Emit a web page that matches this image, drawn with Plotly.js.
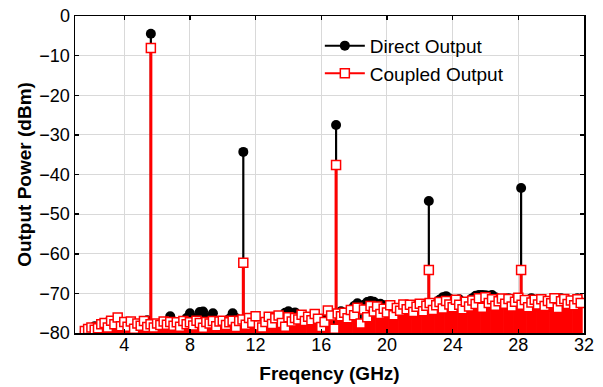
<!DOCTYPE html>
<html>
<head>
<meta charset="utf-8">
<script src="https://cdn.plot.ly/plotly-3.0.1.min.js"></script>
<style>html,body{margin:0;padding:0;background:#fff;}#chart{width:603px;height:387px;}</style>
</head>
<body>
<div id="chart"></div>
<script>
// Harmonic peaks (GHz, dBm)
const peakFreq = [5.62, 11.25, 16.9, 22.55, 28.17];
const directPeak = [-4.5, -34.3, -27.5, -46.7, -43.4];
const coupledPeak = [-8.1, -62.3, -37.6, -64.1, -64.1];

// Noise floor sweep (GHz)
const noiseFreq = [
 1.6,1.8,2.0,2.2,2.4,2.6,
 2.8,3.0,3.2,3.4,3.6,3.8,4.0,
 4.2,4.4,4.6,4.8,5.0,5.2,5.4,
 5.6,5.8,6.0,6.2,6.4,6.6,6.8,7.0,
 7.2,7.4,7.6,7.8,8.0,8.2,8.4,8.6,8.8,9.0,
 9.2,9.4,9.6,9.8,10.0,10.2,10.4,10.6,10.8,11.0,
 11.2,11.4,11.6,11.8,12.0,12.2,12.4,12.6,12.8,13.0,
 13.2,13.4,13.6,13.8,14.0,14.2,14.4,14.6,14.8,15.0,
 15.2,15.4,15.6,15.8,16.0,16.2,16.4,16.6,16.8,17.0,
 17.2,17.4,17.6,17.8,18.0,18.2,18.4,18.6,18.8,19.0,
 19.2,19.4,19.6,19.8,20.0,20.2,20.4,20.6,20.8,21.0,
 21.2,21.4,21.6,21.8,22.0,22.2,22.4,22.6,22.8,23.0,
 23.2,23.4,23.6,23.8,24.0,24.2,24.4,24.6,24.8,25.0,
 25.2,25.4,25.6,25.8,26.0,26.2,26.4,26.6,26.8,27.0,
 27.2,27.4,27.6,27.8,28.0,28.2,28.4,28.6,28.8,29.0,
 29.2,29.4,29.6,29.8,30.0,30.2,30.4,30.6,30.8,31.0,
 31.2,31.4,31.6,31.8
];
const directNoise = [
 -79.6,-79.3,-79.0,-78.3,-79.4,-78.9,
 -78.4,-77.3,-78.6,-78.9,-79.1,-78.7,-79.0,
 -78.3,-79.2,-78.6,-79.3,-78.5,-78.9,-76.8,
 -78.4,-79.2,-78.6,-79.0,-78.3,-77.2,-75.8,-78.5,
 -77.6,-78.8,-77.4,-76.2,-75.0,-77.4,-76.3,-74.7,-74.6,-76.8,
 -76.0,-75.0,-77.2,-78.1,-77.0,-78.3,-76.4,-75.0,-76.2,-77.9,
 -77.6,-78.4,-77.5,-78.5,-77.6,-78.2,-77.4,-78.4,-77.3,-77.9,
 -77.1,-76.4,-75.7,-74.9,-74.5,-75.1,-74.8,-76.0,-76.9,-76.5,
 -77.1,-76.7,-77.3,-76.8,-77.6,-76.4,-76.0,-77.1,-76.3,-75.6,
 -74.5,-74.9,-75.4,-74.1,-73.2,-72.5,-73.4,-72.9,-72.2,-71.9,
 -72.1,-72.8,-72.6,-73.0,-73.3,-73.6,-74.5,-75.0,-74.4,-74.9,
 -74.6,-75.1,-74.3,-74.9,-73.9,-74.5,-74.0,-74.8,-73.6,-72.4,
 -71.6,-71.0,-70.7,-71.3,-72.0,-71.8,-71.5,-72.5,-73.1,-72.0,
 -71.2,-70.6,-70.4,-70.4,-70.5,-70.6,-70.4,-71.0,-71.8,-71.6,
 -71.6,-71.2,-72.4,-73.3,-72.8,-73.5,-72.6,-71.9,-71.2,-72.5,
 -73.4,-72.7,-73.8,-72.9,-73.5,-72.4,-71.7,-71.2,-72.2,-73.6,
 -72.8,-71.9,-71.2,-72.3
];
const coupledNoise = [
 -79.5,-79.0,-78.6,-79.2,-78.8,-77.8,
 -77.5,-78.6,-76.9,-77.8,-76.1,-78.3,-77.2,
 -78.4,-77.1,-78.9,-77.6,-78.2,-77.0,-78.5,
 -77.8,-78.6,-77.6,-78.0,-77.1,-77.9,-77.2,-78.2,
 -77.3,-78.4,-77.0,-77.8,-77.3,-78.1,-76.9,-77.5,-78.7,-77.2,
 -77.6,-77.0,-78.3,-77.1,-76.9,-78.0,-77.3,-76.9,-78.5,-77.0,
 -76.6,-77.9,-76.2,-77.4,-75.8,-78.1,-78.6,-77.2,-75.9,-77.7,
 -76.3,-75.6,-77.5,-78.4,-76.0,-77.1,-76.2,-76.6,-75.4,-77.0,
 -75.9,-76.8,-75.2,-76.4,-78.5,-77.2,-74.3,-75.6,-78.9,-75.1,
 -75.8,-74.9,-76.3,-74.2,-75.5,-73.6,-77.6,-74.1,-76.0,-73.2,
 -74.6,-73.3,-75.2,-73.9,-74.8,-73.0,-75.5,-73.7,-74.4,-72.8,
 -74.0,-72.9,-74.7,-73.4,-72.6,-74.5,-73.1,-72.4,-74.2,-73.0,
 -72.2,-73.8,-71.9,-72.8,-73.5,-71.6,-72.9,-74.0,-72.1,-73.3,
 -71.8,-72.7,-71.2,-73.6,-71.0,-72.4,-71.5,-73.1,-72.0,-71.3,
 -72.6,-71.4,-73.3,-72.1,-71.1,-72.9,-71.7,-73.5,-72.3,-71.6,
 -72.8,-71.5,-73.2,-71.9,-72.5,-71.2,-73.7,-72.0,-71.4,-72.7,
 -71.8,-73.0,-71.5,-72.4
];

const yAxisMin = -80;
const xTicks = [4, 8, 12, 16, 20, 24, 28, 32];

function stems(xs, ys) {
  const sx = [], sy = [];
  for (let i = 0; i < xs.length; i++) {
    sx.push(xs[i], xs[i], null);
    sy.push(yAxisMin, ys[i], null);
  }
  return {sx, sy};
}

const dX = noiseFreq.concat(peakFreq);
const dY = directNoise.concat(directPeak);
const cX = noiseFreq.concat(peakFreq);
const cY = coupledNoise.concat(coupledPeak);
const dS = stems(dX, dY);
const cNoiseS = stems(noiseFreq, coupledNoise);
const cPeakS = stems(peakFreq, coupledPeak);

const FONT = 'Liberation Sans, Arial, sans-serif';
const RED = '#ff0000';

const traces = [
  {x: dS.sx, y: dS.sy, mode: 'lines', line: {color: '#000', width: 2.2}, showlegend: false, hoverinfo: 'skip'},
  {x: dX, y: dY, mode: 'markers', marker: {symbol: 'circle', size: 10, color: '#000'}, showlegend: false},
  {x: cNoiseS.sx, y: cNoiseS.sy, mode: 'lines', line: {color: RED, width: 4}, showlegend: false, hoverinfo: 'skip'},
  {x: cPeakS.sx, y: cPeakS.sy, mode: 'lines', line: {color: RED, width: 3}, showlegend: false, hoverinfo: 'skip'},
  {x: cX, y: cY, mode: 'markers', marker: {symbol: 'square', size: 9, color: '#fff', line: {color: RED, width: 1.5}}, showlegend: false},
  {x: [null], y: [null], mode: 'lines+markers', name: 'Direct Output', line: {color: '#000', width: 2}, marker: {symbol: 'circle', size: 10, color: '#000'}},
  {x: [null], y: [null], mode: 'lines+markers', name: 'Coupled Output', line: {color: RED, width: 2}, marker: {symbol: 'square', size: 9, color: '#fff', line: {color: RED, width: 1.5}}}
];

const axisCommon = {
  showline: true, linecolor: '#000', linewidth: 1.5, mirror: 'ticks',
  ticks: 'inside', ticklen: 4, tickwidth: 1.5, tickcolor: '#000',
  showgrid: true, gridcolor: '#d9d9d9', gridwidth: 1, zeroline: false,
  tickfont: {family: FONT, size: 18, color: '#000'}
};

const layout = {
  width: 603, height: 387,
  margin: {l: 75, r: 19, t: 16, b: 54},
  paper_bgcolor: '#fff', plot_bgcolor: '#fff',
  font: {family: FONT, color: '#000'},
  xaxis: Object.assign({}, axisCommon, {
    range: [1, 32], tickmode: 'array', tickvals: xTicks, ticktext: xTicks.map(String),
    ticklabelstandoff: -5,
    title: {text: 'Freqency (GHz)', font: {family: FONT, size: 19, weight: 'bold', color: '#000'}, standoff: 12}
  }),
  yaxis: Object.assign({}, axisCommon, {
    range: [-80, 0], dtick: 10, tick0: 0,
    title: {text: 'Output Power (dBm)', font: {family: FONT, size: 19, weight: 'bold', color: '#000'}, standoff: 2}
  }),
  legend: {
    x: 0.481, y: 0.966, xanchor: 'left', yanchor: 'top',
    itemwidth: 40,
    bgcolor: 'rgba(0,0,0,0)', borderwidth: 0,
    font: {family: FONT, size: 19, color: '#000'}
  },
  showlegend: true
};

Plotly.newPlot('chart', traces, layout, {displayModeBar: false, staticPlot: true});
</script>
</body>
</html>
